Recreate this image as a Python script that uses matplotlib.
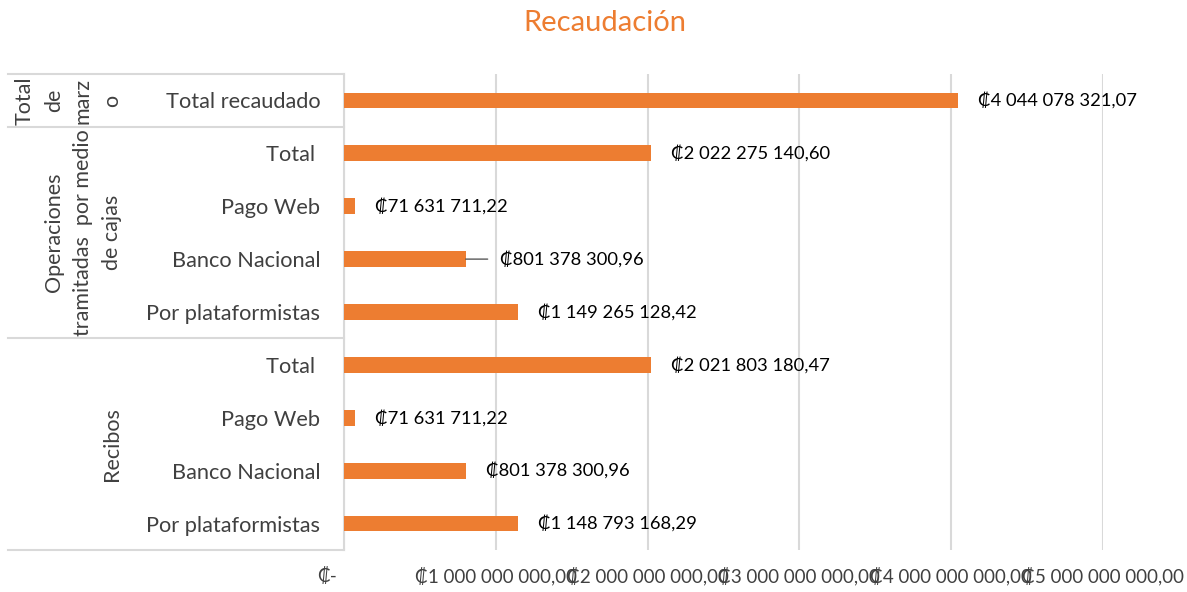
import matplotlib
matplotlib.use('Agg')
import matplotlib.pyplot as plt
from matplotlib import transforms
from matplotlib.lines import Line2D

categories = ["Total recaudado", "Total ", "Pago Web", "Banco Nacional", "Por plataformistas",
              "Total ", "Pago Web", "Banco Nacional", "Por plataformistas"]
values = [4044078321.07, 2022275140.60, 71631711.22, 801378300.96, 1149265128.42,
          2021803180.47, 71631711.22, 801378300.96, 1148793168.29]
group_lines = [["Total", "de", "marz", "o"],
               ["Operaciones", "tramitadas  por medio", "de cajas"],
               ["Recibos"]]
group_sizes = [1, 4, 4]
x_ticks = [0, 1e9, 2e9, 3e9, 4e9, 5e9]
x_tick_labels = ["₡-", "₡1 000 000 000,00", "₡2 000 000 000,00", "₡3 000 000 000,00",
                 "₡4 000 000 000,00", "₡5 000 000 000,00"]
title = "Recaudación"

ORANGE = "#ED7D31"
GRID = "#D9D9D9"
TXT = "#404040"
FONT = ["Lato", "DejaVu Sans"]

def fmt(v):
    s = f"{v:,.2f}"
    return "₡" + s.replace(",", " ").replace(".", ",")

W, H = 1187, 592
fig = plt.figure(figsize=(W / 100, H / 100), dpi=100)
ax = fig.add_axes([344 / W, 1 - 550 / H, (1103 - 344) / W, (550 - 74) / H])

n = len(categories)
ypos = list(range(n))
ax.barh(ypos, values, height=0.3, color=ORANGE, zorder=3)
ax.set_xlim(0, 5e9)
ax.set_ylim(n - 0.5, -0.5)

ax.set_xticks(x_ticks)
ax.set_xticklabels(x_tick_labels, family=FONT, fontsize=13.5, color=TXT)
ax.tick_params(axis='x', length=0, pad=12)
first = ax.get_xticklabels()[0]
first.set_transform(first.get_transform() + transforms.ScaledTranslation(-17 / 100, 0, fig.dpi_scale_trans))

ax.set_yticks(ypos)
ax.set_yticklabels(categories, family=FONT, fontsize=15.7, color=TXT)
ax.tick_params(axis='y', length=0, pad=17)

ax.grid(axis='x', color=GRID, linewidth=1.5, zorder=0)
for s in ['top', 'right', 'bottom']:
    ax.spines[s].set_visible(False)
ax.spines['left'].set_color(GRID)
ax.spines['left'].set_linewidth(1.5)

# data labels
for i, v in enumerate(values):
    off = 20
    if i == 3:
        off = 34
        ax.annotate("", xy=(v, i), xycoords='data',
                    xytext=(22, 0), textcoords='offset pixels',
                    arrowprops=dict(arrowstyle='-', color='#595959', lw=1.0,
                                    shrinkA=0, shrinkB=0), zorder=4)
    ax.annotate(fmt(v), xy=(v, i), xytext=(off, 0), textcoords='offset pixels',
                va='center', ha='left', family=FONT, fontsize=13.2, color='black')

# group separators and labels
blend = transforms.blended_transform_factory(fig.transFigure, ax.transData)
boundaries = [-0.5]
for g in group_sizes:
    boundaries.append(boundaries[-1] + g)
for b in boundaries:
    ax.add_line(Line2D([8 / W, 344 / W], [b, b], transform=blend, color=GRID,
                       linewidth=1.5, clip_on=False))
for gi, lines in enumerate(group_lines):
    center = (boundaries[gi] + boundaries[gi + 1]) / 2
    m = len(lines)
    for li, t in enumerate(lines):
        xpx = 112 - (m - 1 - li) * 29
        ax.text(xpx / W, center, t, transform=blend, rotation=90, ha='center', va='center',
                family=FONT, fontsize=15.5, color=TXT, rotation_mode='anchor')

fig.text(605 / W, 1 - 23 / H, title, ha='center', va='center', family=FONT,
         fontsize=21, color=ORANGE)

fig.savefig("out.png", dpi=100, facecolor='white')
